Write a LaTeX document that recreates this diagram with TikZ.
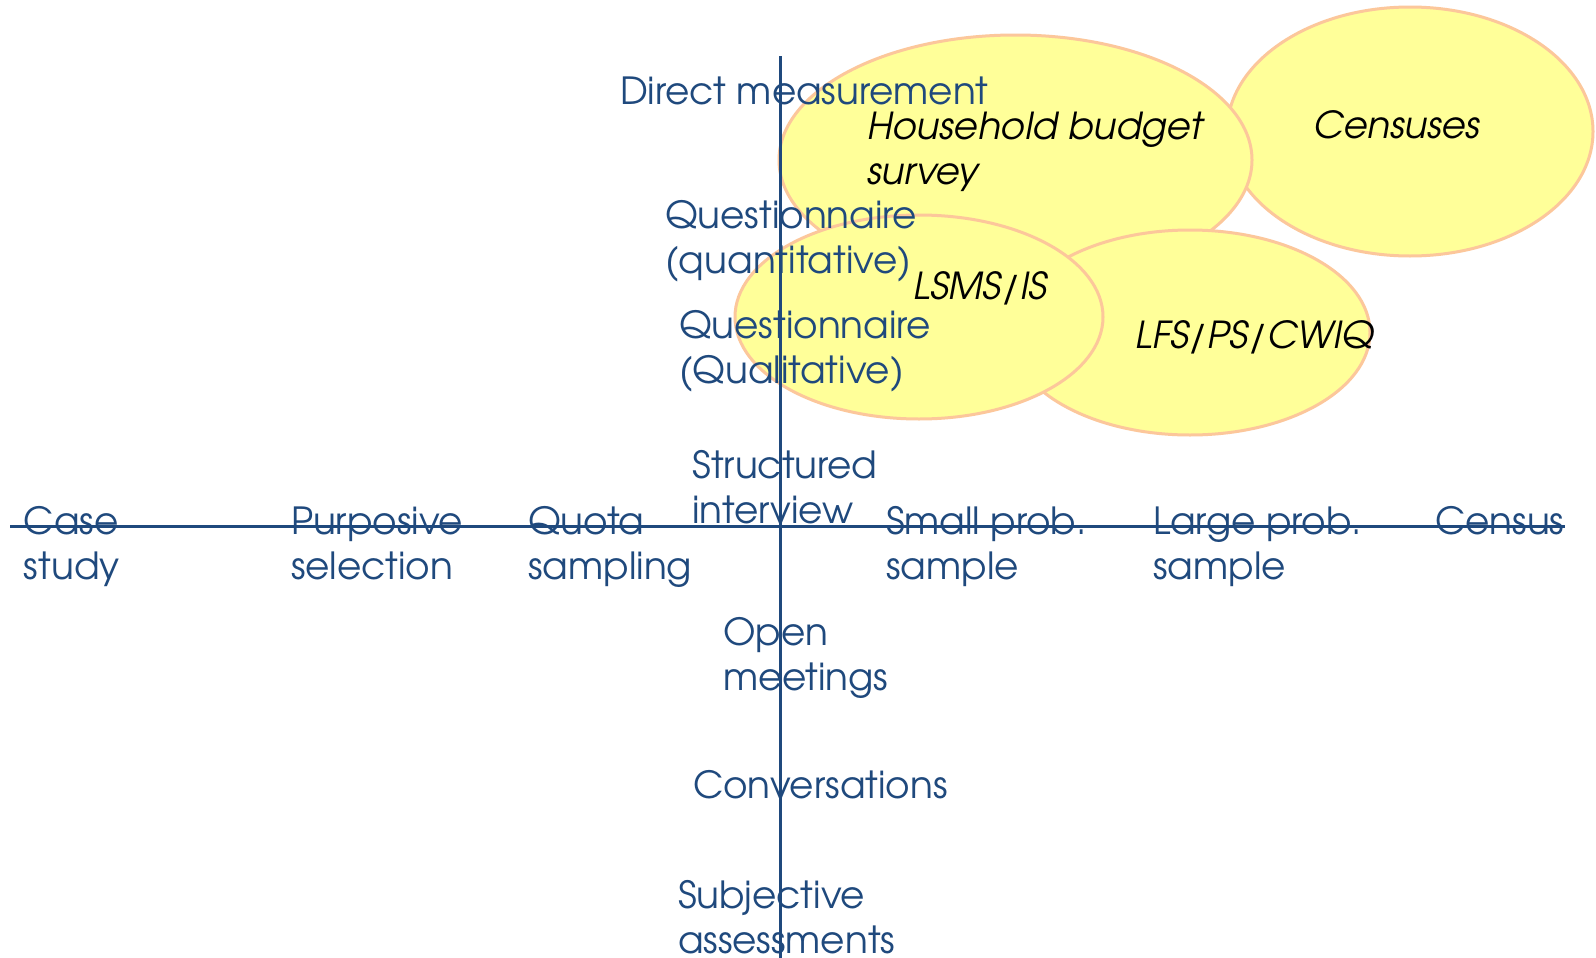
\documentclass[tikz,border=0pt]{standalone}
\usepackage{fontspec}
\setmainfont{TeX Gyre Adventor}
\usetikzlibrary{shapes.geometric}
\definecolor{axisblue}{HTML}{1F497D}
\definecolor{ellfill}{HTML}{FFFF99}
\definecolor{elldraw}{HTML}{FCC79B}
\newcommand{\twolines}[2]{\begin{tabular}[t]{@{}l@{}}#1\\#2\end{tabular}}
\tikzset{
  blob/.style={ellipse, draw=elldraw, fill=ellfill, line width=1.5pt, inner sep=0pt},
  lab/.style={anchor=base west, inner sep=0pt, outer sep=0pt, text=axisblue,
    font=\fontsize{18.7}{22.5}\selectfont},
  ital/.style={anchor=base west, inner sep=0pt, outer sep=0pt, text=black,
    font=\fontsize{18.6}{22.5}\selectfont\itshape},
  axis/.style={draw=axisblue, line width=1.5pt}
}
\begin{document}
\begin{tikzpicture}[x=0.5pt,y=-0.5pt]
\useasboundingbox[fill=white] (0,0) rectangle (1596,958);
% ellipses
\node[blob, minimum width=183pt, minimum height=124.5pt] (cen) at (1410,131.5) {};
\node[blob, minimum width=236.5pt, minimum height=125pt] (hbs) at (1015.5,160) {};
\node[blob, minimum width=180pt, minimum height=102.5pt] (lfs) at (1190,332.5) {};
\node[blob, minimum width=184pt, minimum height=102pt] (lsms) at (919,317) {};
% axes
\coordinate (vtop) at (780,56);
\coordinate (vbot) at (780,958);
\coordinate (hleft) at (10,526);
\coordinate (hright) at (1565,526);
\draw[axis] (vtop) -- (vbot);
\draw[axis] (hleft) -- (hright);
% ellipse texts
\node[ital] (thbs) at (867,139) {\twolines{Household budget}{survey}};
\node[ital] (tcen) at (1313,138) {Censuses};
\node[ital] (tlsms) at (913,299) {LSMS/IS};
\node[ital] (tlfs) at (1135,348) {LFS/PS/CWIQ};
% vertical axis labels
\node[lab] (dm) at (620,104) {Direct measurement};
\node[lab] (qq) at (665,228) {\twolines{Questionnaire}{(quantitative)}};
\node[lab] (ql) at (679,338) {\twolines{Questionnaire}{(Qualitative)}};
\node[lab] (si) at (692,478) {\twolines{Structured}{interview}};
\node[lab] (om) at (723,645) {\twolines{Open}{meetings}};
\node[lab] (cv) at (693,798) {Conversations};
\node[lab] (sa) at (678,908) {\twolines{Subjective}{assessments}};
% horizontal axis labels
\node[lab] (cs) at (24,534) {\twolines{Case}{study}};
\node[lab] (ps) at (291,534) {\twolines{Purposive}{selection}};
\node[lab] (qs) at (528,534) {\twolines{Quota}{sampling}};
\node[lab] (sp) at (886,534) {\twolines{Small prob.}{sample}};
\node[lab] (lp) at (1153,534) {\twolines{Large prob.}{sample}};
\node[lab] (ce) at (1435,534) {Census};
\end{tikzpicture}
\end{document}
